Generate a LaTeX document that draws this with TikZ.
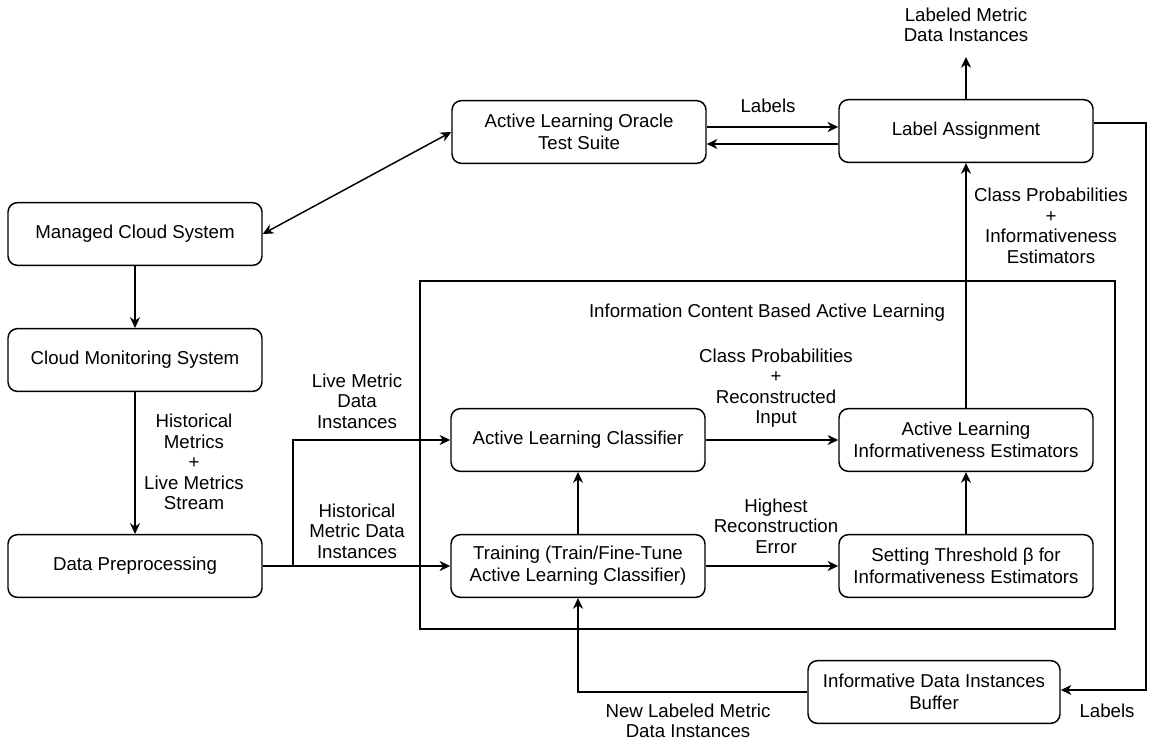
\documentclass[tikz,border=0pt]{standalone}
\usepackage{fontspec}
\setmainfont{Liberation Sans}
\usetikzlibrary{arrows.meta,calc}
\begin{document}
\begin{tikzpicture}[x=0.75pt,y=-0.75pt,
  box/.style={draw,line width=1.1pt,rounded corners=7pt,minimum width=190.5pt,minimum height=47pt,align=center,inner sep=2pt,font=\fontsize{14}{16.5}\selectfont},
  lbl/.style={align=center,inner sep=0pt,font=\fontsize{14}{15.4}\selectfont},
  conn/.style={line width=1.1pt,-{Stealth[length=8pt,width=7.5pt,inset=2.5pt]}},
  line/.style={line width=1.1pt}]
\useasboundingbox (0,0) rectangle (1149,742);
\draw[line width=1.1pt] (420,281) rectangle (1115,629);
\node[lbl] (title) at (767,313) {Information Content Based Active Learning};

\node[box] (oracle) at (579,132) {Active Learning Oracle\\Test Suite};
\node[box] (la) at (966,131) {Label Assignment};
\node[box] (managed) at (135,234) {Managed Cloud System};
\node[box] (monitor) at (135,360) {Cloud Monitoring System};
\node[box] (prep) at (135,566) {Data Preprocessing};
\node[box] (alc) at (578,440) {Active Learning Classifier};
\node[box] (alie) at (966,440) {Active Learning\\Informativeness Estimators};
\node[box] (train) at (578,566) {Training (Train/Fine-Tune\\Active Learning Classifier)};
\node[box] (thresh) at (966,566) {Setting Threshold β for\\Informativeness Estimators};
\node[box,minimum width=189pt] (buf) at (934,692) {Informative Data Instances\\Buffer};

\coordinate (y1) at (0,127);
\coordinate (y2) at (0,144);
\coordinate (y3) at (0,123);
\coordinate (y4) at (0,690);
\coordinate (j) at (293,566);
\coordinate (top) at (966,57);
\coordinate (r1) at (1146,123);
\coordinate (r2) at (1146,690);
\coordinate (b1) at (578,692);

\draw[line width=1.1pt,{Stealth[length=8pt,width=7.5pt,inset=2.5pt]}-{Stealth[length=8pt,width=7.5pt,inset=2.5pt]}] (managed.east) -- (oracle.west);
\draw[conn] (oracle.east |- y1) -- (la.west |- y1);
\draw[conn] (la.west |- y2) -- (oracle.east |- y2);
\node[lbl] (lab1) at (768,106) {Labels};
\draw[conn] (la.north) -- (top);
\node[lbl] (lmdi) at (966,25) {Labeled Metric\\Data Instances};
\draw[conn] (alie.north) -- (la.south);
\node[lbl] (cpie) at (1051,226) {Class Probabilities\\+\\Informativeness\\Estimators};
\draw[conn] (la.east |- y3) -- (r1) -- (r2) -- (buf.east |- y4);
\node[lbl] (lab2) at (1107,711) {Labels};
\draw[conn] (buf.west) -- (b1) -- (train.south);
\node[lbl] (nlm) at (688,721) {New Labeled Metric\\Data Instances};

\draw[conn] (managed.south) -- (monitor.north);
\draw[conn] (monitor.south) -- (prep.north);
\node[lbl] (hist) at (194,462) {Historical\\Metrics\\+\\Live Metrics\\Stream};
\draw[line] (prep.east) -- (j);
\draw[conn] (j) -- (train.west);
\draw[conn] (j) |- (alc.west);
\node[lbl] (lmd) at (357,401) {Live Metric\\Data\\Instances};
\node[lbl] (hmd) at (357,531) {Historical\\Metric Data\\Instances};

\draw[conn] (alc.east) -- (alie.west);
\node[lbl] (cpri) at (776,388) {Class Probabilities\\+\\Reconstructed\\Input};
\draw[conn] (train.east) -- (thresh.west);
\node[lbl] (hre) at (776,526) {Highest\\Reconstruction\\Error};
\draw[conn] (train.north) -- (alc.south);
\draw[conn] (thresh.north) -- (alie.south);
\end{tikzpicture}
\end{document}
